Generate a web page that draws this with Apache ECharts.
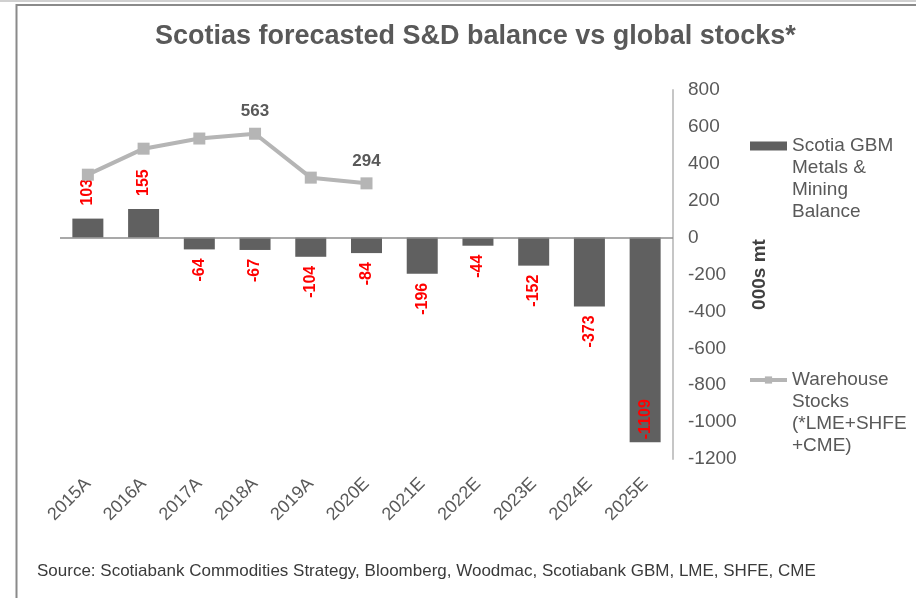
<!DOCTYPE html>
<html>
<head>
<meta charset="utf-8">
<script src="https://cdn.jsdelivr.net/npm/echarts@6/dist/echarts.min.js"></script>
<style>
html,body{margin:0;padding:0;background:#fff;}
#c{width:916px;height:598px;}
</style>
</head>
<body>
<div id="c"></div>
<script>
const categories = ['2015A','2016A','2017A','2018A','2019A','2020E','2021E','2022E','2023E','2024E','2025E'];
const balanceValues = [103,155,-64,-67,-104,-84,-196,-44,-152,-373,-1109];
const stockValues = [341,482,537,563,325,294,null,null,null,null,null];
const stockLabelIdx = [3,5];
const yTicks = {min:-1200, max:800, interval:200};
const balanceName = 'Scotia GBM Metals & Mining Balance';
const stockName = 'Warehouse Stocks (*LME+SHFE +CME)';
const legendText = {};
legendText[balanceName] = 'Scotia GBM\nMetals &\nMining\nBalance';
legendText[stockName] = 'Warehouse\nStocks\n(*LME+SHFE\n+CME)';

const FONT = '"Liberation Sans", Arial, sans-serif';
const grey = '#595959';

const barData = balanceValues.map(v => {
  let label;
  if (v < -1000) label = {position:'insideBottom', align:'left', verticalAlign:'middle', distance:3};
  else if (v >= 0) label = {position:'top', align:'left', verticalAlign:'middle', distance:13};
  else label = {position:'bottom', align:'right', verticalAlign:'middle', distance:9};
  return {value:v, label};
});
const lineData = stockValues.map((v,i) => ({
  value: v,
  label: {show: stockLabelIdx.indexOf(i) >= 0}
}));

const chart = echarts.init(document.getElementById('c'), null, {renderer:'canvas'});
chart.setOption({
  backgroundColor:'#fff',
  animation:false,
  textStyle:{fontFamily:FONT},
  title:[{
    text:'Scotias forecasted S&D balance vs global stocks*',
    left:150, top:18,
    textStyle:{fontSize:27, fontWeight:'bold', color:grey, fontFamily:FONT}
  },{
    text:'Source: Scotiabank Commodities Strategy, Bloomberg, Woodmac, Scotiabank GBM, LME, SHFE, CME',
    left:32, top:558,
    textStyle:{fontSize:17, fontWeight:'normal', color:'#3a3a3a', fontFamily:FONT}
  }],
  legend:{
    orient:'vertical',
    left:743, top:64,
    itemWidth:37, itemHeight:9, itemGap:80,
    data:[
      {name:balanceName, icon:'rect'},
      {name:stockName, lineStyle:{width:4}}
    ],
    formatter: n => '\n\n\n' + legendText[n],
    textStyle:{fontSize:19, color:grey, lineHeight:22, fontFamily:FONT}
  },
  grid:{left:60, right:243, top:90, bottom:139, containLabel:false},
  xAxis:{
    type:'category',
    data:categories,
    axisLine:{show:false, onZero:false},
    axisTick:{show:false},
    axisLabel:{rotate:45, margin:22, fontSize:18, color:grey, fontFamily:FONT},
    splitLine:{show:false}
  },
  yAxis:{
    type:'value',
    position:'right',
    min:yTicks.min, max:yTicks.max, interval:yTicks.interval,
    name:'000s mt',
    nameLocation:'middle',
    nameRotate:90,
    nameGap:77,
    nameTextStyle:{fontSize:19, fontWeight:'bold', color:'#404040', fontFamily:FONT},
    axisLine:{show:true, lineStyle:{color:'#c6c6c6', width:2}},
    axisTick:{show:false},
    splitLine:{show:false},
    axisLabel:{margin:15, fontSize:19, color:grey, fontFamily:FONT, formatter: v => String(v)}
  },
  series:[{
    name:balanceName,
    type:'bar',
    data:barData,
    barWidth:31,
    itemStyle:{color:'#606060'},
    label:{show:true, rotate:90, color:'#ff0000', fontWeight:'bold', fontSize:16, fontFamily:FONT},
    markLine:{
      silent:true, symbol:['none','none'],
      label:{show:false},
      lineStyle:{color:'#8c8c8c', width:1.5, type:'solid'},
      data:[{yAxis:0}]
    }
  },{
    name:stockName,
    type:'line',
    data:lineData,
    connectNulls:false,
    symbol:'rect',
    symbolSize:12,
    lineStyle:{color:'#b5b5b5', width:4},
    itemStyle:{color:'#b5b5b5'},
    label:{position:'top', distance:8, color:grey, fontWeight:'bold', fontSize:17, fontFamily:FONT},
    z:3
  }],
  graphic:[
    {type:'line', shape:{x1:0,y1:1,x2:916,y2:1}, style:{stroke:'#d0d0d0', lineWidth:2}, silent:true},
    {type:'polyline', shape:{points:[[16.5,598],[16.5,5],[916,5]]}, style:{stroke:'#8a8a8a', lineWidth:2, fill:null}, silent:true}
  ]
});
</script>
</body>
</html>
